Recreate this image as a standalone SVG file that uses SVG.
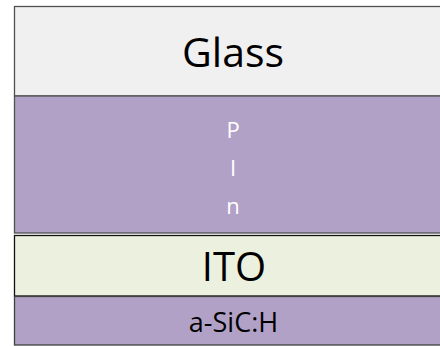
<svg xmlns="http://www.w3.org/2000/svg" width="440" height="346" viewBox="0 0 440 346">
<style>
.t{font-family:"Open Sans","Liberation Sans",sans-serif;text-anchor:middle}
.pur{fill:#b2a1c7}
</style>
<rect width="440" height="346" fill="#ffffff"/>
<g id="glass">
<rect x="14.5" y="6.5" width="450" height="89.5" fill="#f0f0f0" stroke="#505050" stroke-width="1.3"/>
<text class="t" x="233" y="67" font-size="41" fill="#000">Glass</text>
</g>
<g id="pin">
<rect class="pur" x="14.5" y="96" width="450" height="137" stroke="#505050" stroke-width="1.3"/>
<text class="t" x="233" y="138" font-size="22" fill="#fff">P</text>
<text class="t" x="233" y="176" font-size="22" fill="#fff">I</text>
<text class="t" x="233" y="214" font-size="22" fill="#fff">n</text>
</g>
<g id="ito">
<rect x="14.5" y="235.5" width="450" height="60.5" fill="#ebf1de" stroke="#111" stroke-width="1.3"/>
<text class="t" x="234" y="281" font-size="40" fill="#000">ITO</text>
</g>
<g id="asic">
<rect class="pur" x="14.5" y="296.5" width="450" height="48.5" stroke="#404040" stroke-width="1.3"/>
<text class="t" x="233.5" y="332" font-size="27" fill="#000">a-SiC:H</text>
</g>
</svg>
